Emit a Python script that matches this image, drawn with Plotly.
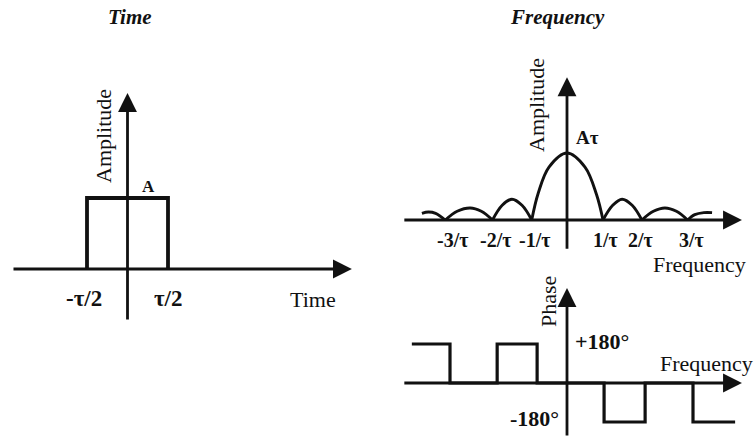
import plotly.graph_objects as go

W, H = 756, 439

# ---------------- data ----------------
# Time domain: rectangular pulse (t in units of tau, amplitude in units of A)
pulse_t = [-0.5, -0.5, 0.5, 0.5]
pulse_a = [0, 1, 1, 0]

# Frequency domain amplitude |sinc|, read lobe by lobe (f in 1/tau, amplitude in A*tau)
lobe_f = [
    [-4.03, -3.85, -3.65, -3.38],
    [-3.38, -3.05, -2.69, -2.38, -2.07],
    [-2.07, -1.8, -1.53, -1.25, -0.98],
    [-0.98, -0.8, -0.5, 0.0, 0.5, 0.82, 1.0],
    [1.0, 1.27, 1.53, 1.81, 2.08],
    [2.08, 2.4, 2.72, 3.04, 3.35],
    [3.35, 3.55, 3.8, 4.03],
]
lobe_a = [
    [0.10, 0.12, 0.10, 0.0],
    [0.0, 0.13, 0.18, 0.13, 0.0],
    [0.0, 0.22, 0.31, 0.22, 0.0],
    [0.0, 0.40, 0.79, 1.0, 0.79, 0.38, 0.0],
    [0.0, 0.22, 0.31, 0.22, 0.0],
    [0.0, 0.13, 0.18, 0.13, 0.0],
    [0.0, 0.08, 0.11, 0.11],
]
freq_tick_pos = [-3.17, -2.0, -0.9, 1.07, 2.05, 3.45]
freq_tick_text = ["-3/τ", "-2/τ", "-1/τ", "1/τ", "2/τ", "3/τ"]

# Phase (degrees), step function
phase_f = [-4.31, -3.25, -1.94, -0.83, 1.03, 2.17, 3.5, 4.67]
phase_deg = [180, 0, 180, 0, -180, 0, -180, -180]

# ---------------- layout helpers ----------------
INK = "#111111"
SERIF = "Liberation Serif, Times New Roman, serif"


def ranges(ox, oy, sx, sy):
    """axis ranges so that data origin lands at pixel (ox, oy) with sx, sy px per unit"""
    return [-ox / sx, (W - ox) / sx], [-(H - oy) / sy, oy / sy]


panels = {
    "1": ranges(127.5, 269, 81, 71),        # time
    "2": ranges(567, 220, 36, 67),          # frequency amplitude
    "3": ranges(567, 383, 36, 39 / 180),    # phase
}


def px(x):
    return x / W


def py(y):
    return 1 - y / H


fig = go.Figure()

# pulse
fig.add_trace(go.Scatter(x=pulse_t, y=pulse_a, mode="lines",
                         line=dict(color=INK, width=3.8), xaxis="x", yaxis="y",
                         hoverinfo="skip"))

# amplitude spectrum
fx, fa = [], []
for f_seg, a_seg in zip(lobe_f, lobe_a):
    fx += f_seg + [None]
    fa += a_seg + [None]
fig.add_trace(go.Scatter(x=fx, y=fa, mode="lines", connectgaps=False,
                         line=dict(color=INK, width=2.9, shape="spline", smoothing=1.0),
                         xaxis="x2", yaxis="y2", hoverinfo="skip"))

# phase
fig.add_trace(go.Scatter(x=phase_f, y=phase_deg, mode="lines",
                         line=dict(color=INK, width=3.2, shape="hv"),
                         xaxis="x3", yaxis="y3", hoverinfo="skip"))

annotations = []


def arrow(name, x0, y0, x1, y1):
    xr = "x" if name == "1" else "x" + name
    yr = "y" if name == "1" else "y" + name
    annotations.append(dict(
        x=x1, y=y1, ax=x0, ay=y0,
        xref=xr, yref=yr, axref=xr, ayref=yr,
        text="", showarrow=True, arrowhead=2, arrowsize=1.35,
        arrowwidth=2.8, arrowcolor=INK, standoff=0, startstandoff=0))


# axes (lines with arrowheads)
arrow("1", -1.426, 0, 2.77, 0)
arrow("1", 0, -0.732, 0, 2.479)
arrow("2", -4.56, 0, 4.86, 0)
arrow("2", 0, -0.45, 0, 2.13)
arrow("3", -4.56, 0, 4.86, 0)
arrow("3", 0, -249, 0, 438)


def label(x, y, text, size=22, bold=False, italic=False, angle=0):
    t = text
    if bold:
        t = "<b>" + t + "</b>"
    if italic:
        t = "<i>" + t + "</i>"
    annotations.append(dict(x=px(x), y=py(y), xref="paper", yref="paper", text=t,
                            showarrow=False, textangle=angle,
                            font=dict(family=SERIF, size=size, color=INK),
                            xanchor="center", yanchor="middle"))


# titles
label(130, 17, "Time", 21, bold=True, italic=True)
label(557, 17, "Frequency", 21, bold=True, italic=True)

# time panel texts
label(103, 136, "Amplitude", 22, angle=-90)
label(148, 186, "A", 17, bold=True)
label(84, 298, "-τ/2", 23, bold=True)
label(168, 298, "τ/2", 23, bold=True)
label(313, 299, "Time", 22)

# frequency amplitude texts
label(537, 105, "Amplitude", 22, angle=-90)
label(587, 137, "Aτ", 19, bold=True)
for pos, txt in zip(freq_tick_pos, freq_tick_text):
    annotations.append(dict(x=pos, y=0, xref="x2", yref="y2", text="<b>" + txt + "</b>",
                            showarrow=False, yshift=-20,
                            font=dict(family=SERIF, size=20, color=INK)))
label(699, 264, "Frequency", 22)

# phase texts
label(548, 302, "Phase", 22, angle=-90)
label(602, 341, "+180°", 22, bold=True)
label(534, 418, "-180°", 22, bold=True)
label(706, 363, "Frequency", 22)

layout = dict(
    width=W, height=H, autosize=False,
    margin=dict(l=0, r=0, t=0, b=0, pad=0),
    paper_bgcolor="white", plot_bgcolor="rgba(0,0,0,0)",
    showlegend=False, annotations=annotations,
)
for name, (rx, ry) in panels.items():
    suffix = "" if name == "1" else name
    layout["xaxis" + suffix] = dict(domain=[0, 1], range=rx, visible=False, fixedrange=True,
                                    anchor="y" + suffix)
    layout["yaxis" + suffix] = dict(domain=[0, 1], range=ry, visible=False, fixedrange=True,
                                    anchor="x" + suffix)
fig.update_layout(**layout)

fig.write_html("out.html", config={"displayModeBar": False})
